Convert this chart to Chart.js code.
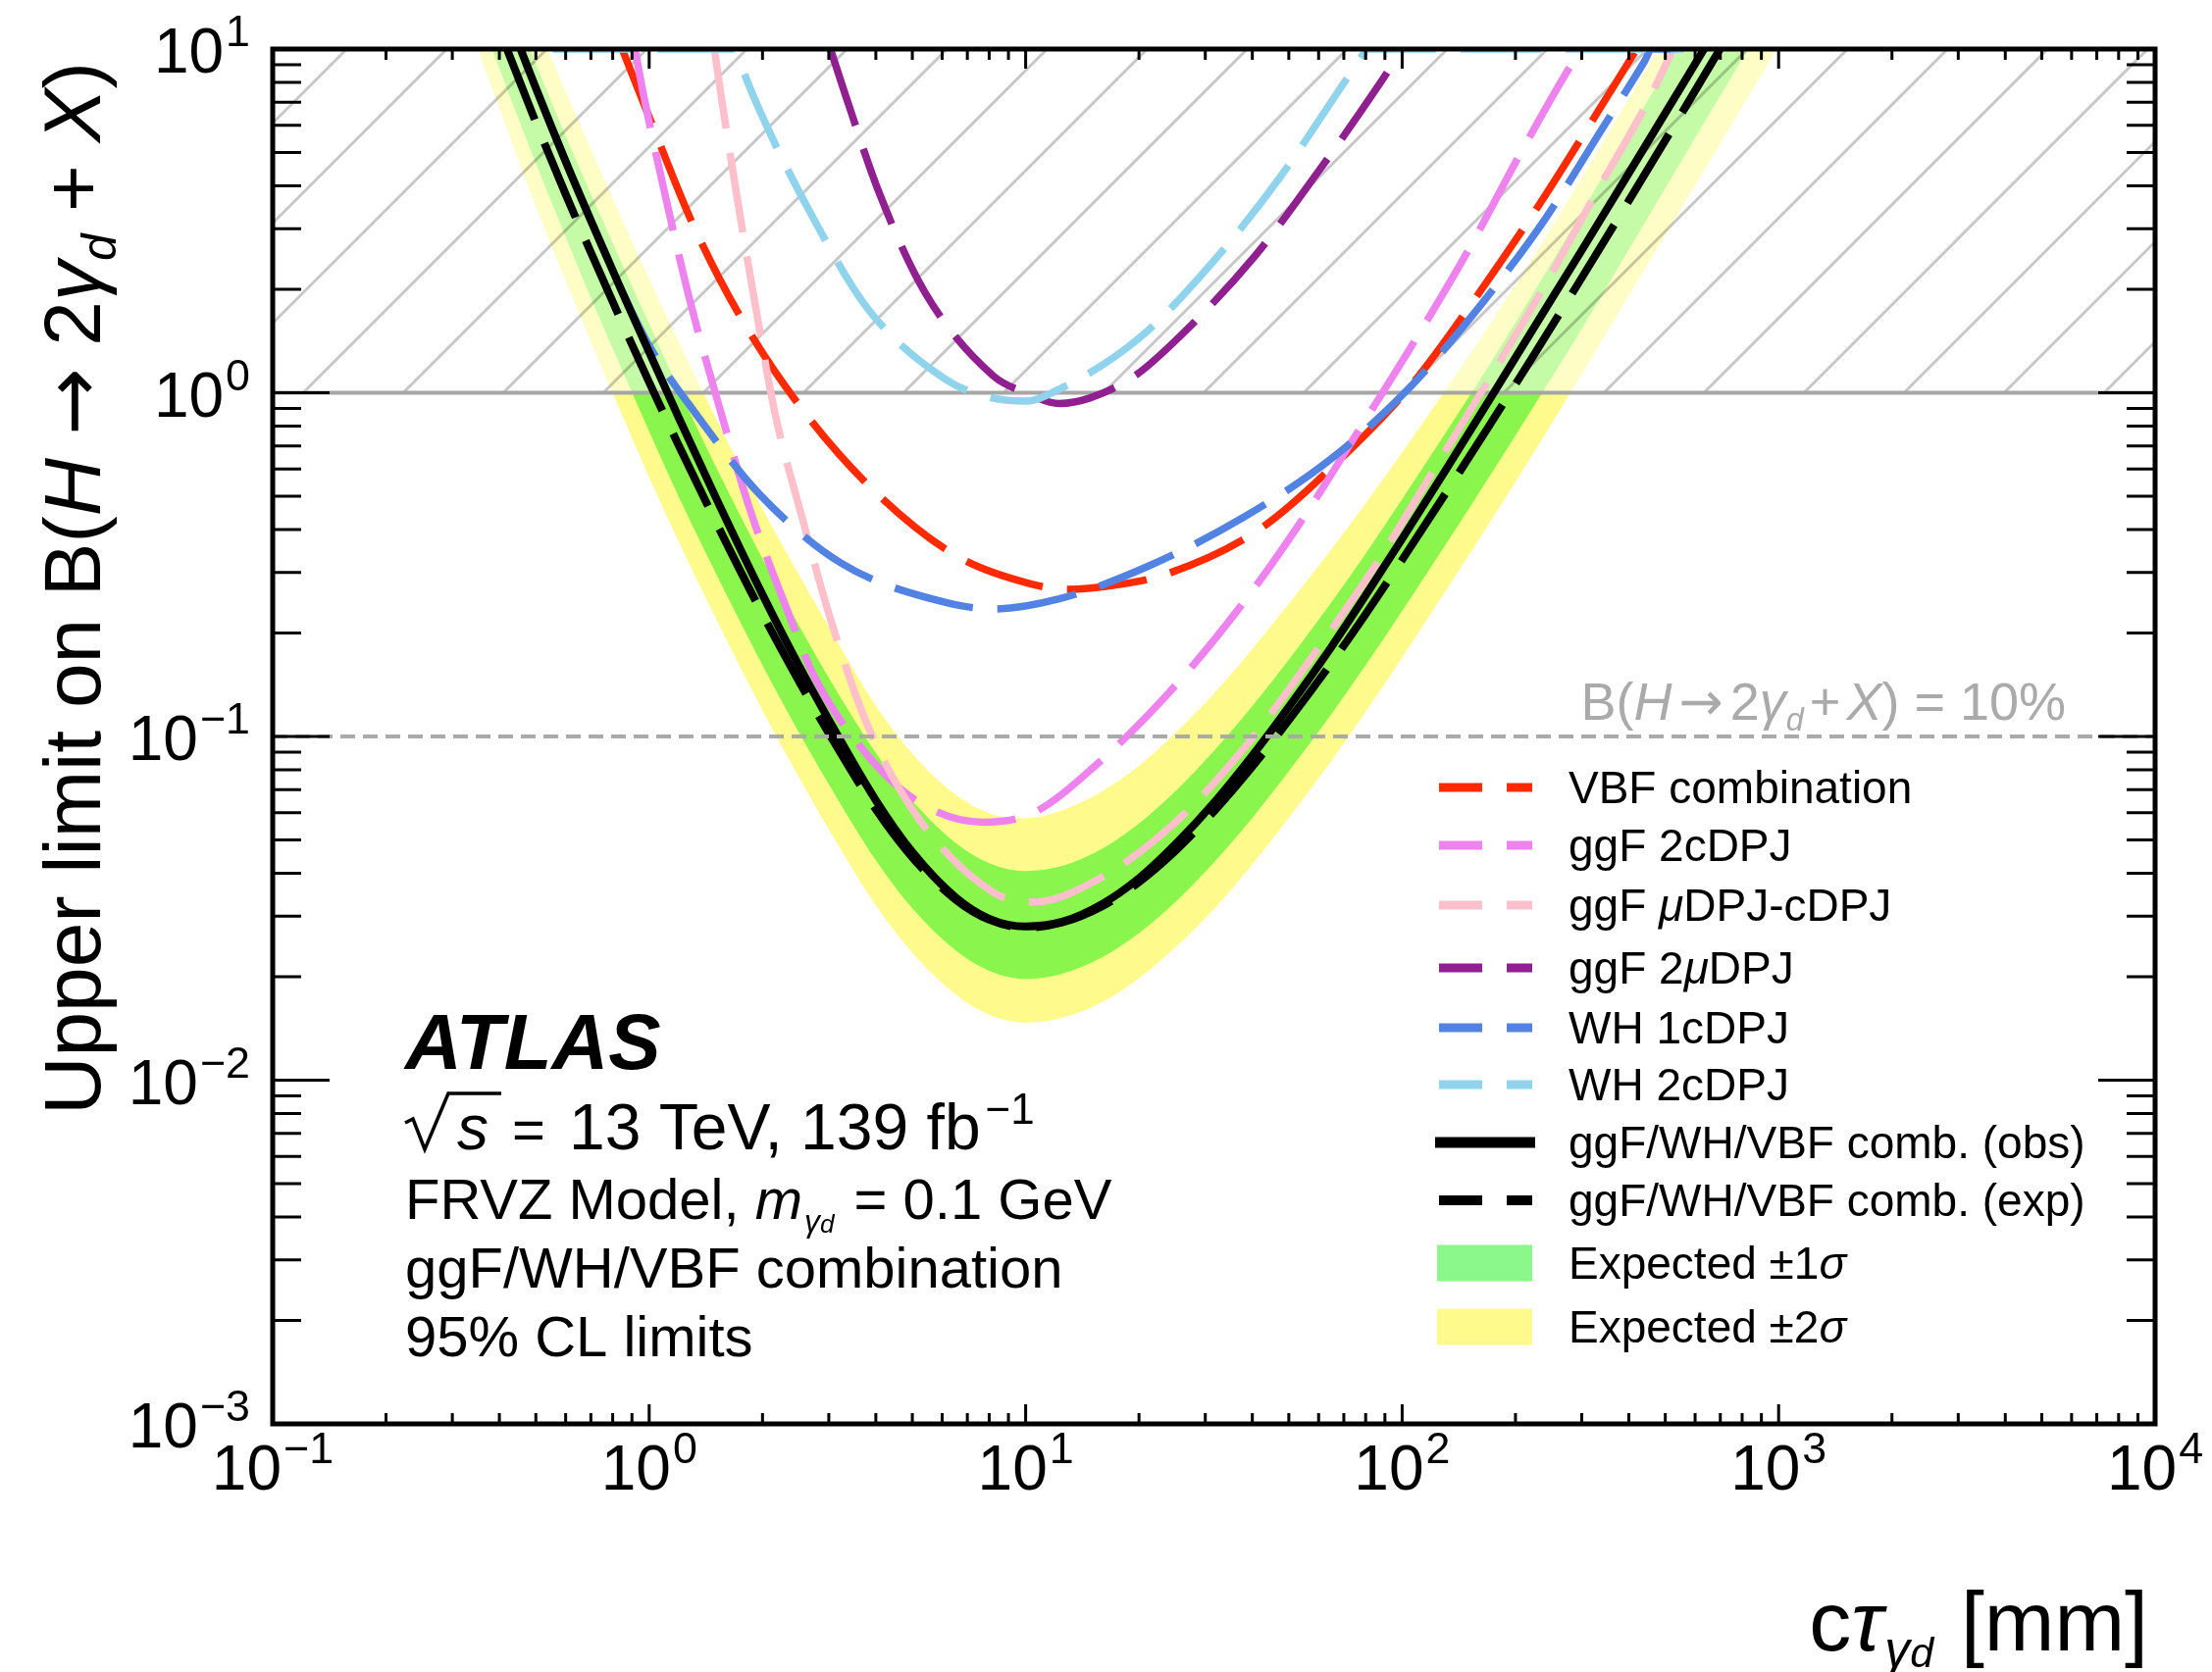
<!DOCTYPE html>
<html lang="en">
<head>
<meta charset="utf-8">
<title>Upper limit on B(H → 2γd + X) versus cτ</title>
<script src="https://cdn.jsdelivr.net/npm/chart.js@4.4.1/dist/chart.umd.min.js"></script>
<style>
html, body { margin: 0; padding: 0; background: #ffffff; }
#plot { display: block; }
</style>
</head>
<body>
<canvas id="plot" width="2255" height="1705"></canvas>
<script>
// ---------------------------------------------------------------
// 95% CL upper limits on B(H -> 2 gamma_d + X) versus c*tau [mm]
// ---------------------------------------------------------------

// combined expected / observed limits and the expected bands (common cτ grid, mm)
const ctauComb = [0.33, 0.4, 0.5, 0.6, 0.7, 0.85, 1.0, 1.2, 1.5, 2.0, 2.5, 3.0, 4.0, 5.0, 6.5, 8.0, 10, 12.5, 16, 20, 25, 32, 40, 50, 65, 80, 100, 130, 170, 220, 300, 400, 550, 700, 900, 1100];
const limitExp = [20.0, 11.4, 6.12, 3.78, 2.56, 1.585, 1.072, 0.70, 0.423, 0.227, 0.1447, 0.1022, 0.0614, 0.0445, 0.0336, 0.0293, 0.0278, 0.02875, 0.0321, 0.0377, 0.0465, 0.0614, 0.0817, 0.1115, 0.1641, 0.227, 0.3266, 0.5065, 0.7995, 1.25, 2.16, 3.62, 6.45, 10.03, 15.9, 23.1];
const limitObs = [25.8, 14.5, 7.7, 4.71, 3.17, 1.95, 1.312, 0.843, 0.498, 0.2586, 0.1605, 0.1118, 0.0652, 0.0461, 0.0341, 0.0295, 0.0280, 0.0289, 0.0326, 0.0387, 0.0486, 0.0651, 0.088, 0.1219, 0.1828, 0.2575, 0.3762, 0.592, 0.948, 1.499, 2.597, 4.35, 7.73, 11.98, 19.0, 27.6];
const bandUp2 = [39.0, 22.2, 12.06, 7.52, 5.12, 3.17, 2.14, 1.40, 0.846, 0.459, 0.295, 0.2085, 0.1228, 0.089, 0.0679, 0.0598, 0.0578, 0.061, 0.0693, 0.0822, 0.1023, 0.1351, 0.1797, 0.2431, 0.3512, 0.4767, 0.6695, 1.013, 1.567, 2.425, 4.21, 7.17, 12.9, 20.3, 32.4, 47.4];
const bandUp1 = [29.6, 16.9, 9.06, 5.59, 3.79, 2.35, 1.587, 1.022, 0.613, 0.329, 0.21, 0.148, 0.0896, 0.065, 0.0491, 0.0428, 0.0406, 0.042, 0.0472, 0.0558, 0.0693, 0.0921, 0.1226, 0.1673, 0.2462, 0.3405, 0.4899, 0.7598, 1.199, 1.90, 3.35, 5.72, 10.3, 16.0, 25.4, 37.0];
const bandDn1 = [15.6, 8.78, 4.65, 2.84, 1.89, 1.157, 0.772, 0.497, 0.300, 0.161, 0.1027, 0.0726, 0.0436, 0.0316, 0.0239, 0.0208, 0.0197, 0.0204, 0.0228, 0.0268, 0.033, 0.0436, 0.058, 0.0792, 0.1165, 0.1612, 0.2319, 0.3596, 0.5676, 0.8875, 1.534, 2.61, 4.70, 7.32, 11.6, 16.9];
const bandDn2 = [12.0, 6.73, 3.49, 2.12, 1.41, 0.856, 0.568, 0.367, 0.222, 0.119, 0.076, 0.0537, 0.0323, 0.0235, 0.0178, 0.0155, 0.0147, 0.0152, 0.0169, 0.0198, 0.0244, 0.0319, 0.0425, 0.058, 0.0853, 0.118, 0.1698, 0.2634, 0.4157, 0.65, 1.134, 1.92, 3.42, 5.32, 8.43, 12.2];

// individual channels
const ctauVBF = [0.848, 1.017, 1.31, 1.76, 2.55, 3.94, 6.53, 10.3, 12.9, 17, 23.5, 41.7, 69, 107, 160, 233, 329, 420];
const limitVBF = [10, 6.05, 3.07, 1.64, 0.895, 0.521, 0.336, 0.278, 0.268, 0.275, 0.296, 0.40, 0.646, 1.07, 1.95, 3.57, 6.5, 10];

const ctauGgf2c = [0.917, 0.965, 1.11, 1.29, 1.54, 1.87, 2.32, 2.74, 3.61, 5.09, 7.7, 10.5, 15.3, 24, 37, 53.7, 78, 109, 152, 207, 286, 300];
const limitGgf2c = [10, 7.4, 3.64, 1.81, 0.9, 0.443, 0.235, 0.15, 0.0944, 0.0654, 0.0563, 0.06, 0.0822, 0.134, 0.237, 0.42, 0.8, 1.44, 2.67, 5.01, 9.27, 10];

const ctauGgfMuC = [1.49, 1.55, 1.72, 1.92, 2.16, 2.55, 3.0, 3.76, 5.09, 8.24, 10.5, 15.1, 25, 39.2, 58, 85.5, 120, 169, 238, 326, 449, 525];
const limitGgfMuC = [10, 7.4, 3.59, 1.76, 0.868, 0.432, 0.228, 0.111, 0.0596, 0.0351, 0.033, 0.0377, 0.0563, 0.0964, 0.172, 0.318, 0.584, 1.08, 2.03, 3.78, 7.03, 10];

const ctauGgf2mu = [3.03, 3.31, 4.1, 5.4, 8.2, 10, 12.3, 14.8, 19.5, 25.7, 40.4, 59.5, 86.8, 100];
const limitGgf2mu = [10, 7.43, 3.77, 1.96, 1.12, 1.0, 0.93, 0.965, 1.12, 1.46, 2.48, 4.36, 7.87, 10];

const ctauWH1 = [0.4, 0.5, 0.6, 0.7, 0.85, 1.0, 1.315, 1.96, 3.24, 5.89, 8.2, 12.2, 20.9, 37.6, 65.2, 106, 163, 241, 336, 440, 460, 600];
const limitWH1 = [14.5, 7.7, 4.71, 3.17, 1.96, 1.37, 0.884, 0.508, 0.319, 0.248, 0.235, 0.251, 0.311, 0.432, 0.646, 1.05, 1.82, 3.23, 5.75, 9.2, 10, 10];

const ctauWH2 = [0.554, 1.70, 1.76, 2.02, 2.72, 3.8, 6.16, 8.0, 10.0, 12.2, 20, 31.6, 47.5, 69, 78.5, 80.5, 560];
const limitWH2 = [10, 10, 8.9, 6.2, 3.24, 1.76, 1.09, 0.97, 0.945, 1.02, 1.44, 2.42, 4.25, 7.78, 9.6, 10, 10];

// axis decades
const xTickExponents = [-1, 0, 1, 2, 3, 4];
const yTickExponents = [-3, -2, -1, 0, 1];

// text
const ARROW_FONT = "'DejaVu Sans', sans-serif";
const legendLabels = [
  [{t: 'VBF combination'}],
  [{t: 'ggF 2cDPJ'}],
  [{t: 'ggF '}, {t: 'μ', it: true}, {t: 'DPJ-cDPJ'}],
  [{t: 'ggF 2'}, {t: 'μ', it: true}, {t: 'DPJ'}],
  [{t: 'WH 1cDPJ'}],
  [{t: 'WH 2cDPJ'}],
  [{t: 'ggF/WH/VBF comb. (obs)'}],
  [{t: 'ggF/WH/VBF comb. (exp)'}],
  [{t: 'Expected ±1'}, {t: 'σ', it: true}],
  [{t: 'Expected ±2'}, {t: 'σ', it: true}]
];
const yTitle = [{t: 'Upper limit on B('}, {t: 'H', it: true}, {t: ' '}, {t: '→', f: ARROW_FONT}, {t: ' 2'},
  {t: 'γ', it: true}, {t: 'd', it: true, sc: 0.6, dy: 0.2}, {t: ' + '}, {t: 'X', it: true}, {t: ')'}];
const xTitle = [{t: 'c'}, {t: 'τ', it: true}, {t: 'γ', it: true, sc: 0.6, dy: 0.2, gap: 2},
  {t: 'd', it: true, sc: 0.5, dy: 0.2}, {t: ' [mm]', gap: 4}];
const refLineLabel = [{t: 'B('}, {t: 'H', it: true}, {t: '→', f: ARROW_FONT, gap: 7}, {t: '2', gap: 7},
  {t: 'γ', it: true}, {t: 'd', it: true, sc: 0.6, dy: 0.2}, {t: '+', gap: 6}, {t: 'X', it: true, gap: 6},
  {t: ') = 10%'}];

// ---------------------------------------------------------------
const FONT = "'Liberation Sans', Arial, Helvetica, sans-serif";
const COLORS = {
  vbf: '#ff2a00', ggf2c: '#ee82ee', ggfMuC: '#ffc0cb', ggf2mu: '#901f8f',
  wh1: '#5283e3', wh2: '#8fd3ec', yellow: '#fffa8c', green: 'rgba(0,240,0,0.46)'
};
const DASH = [82, 25];

const pts = (xs, ys) => xs.map((x, i) => ({x, y: ys[i]}));

function bandSet(key, ys, color, fill, order) {
  return {key, data: pts(ctauComb, ys), borderWidth: 0, borderColor: 'rgba(0,0,0,0)',
    backgroundColor: color, fill, pointRadius: 0, order, clip: 0};
}
function curveSet(key, label, xs, ys, color, width, dash, order) {
  return {key, label, data: pts(xs, ys), borderColor: color, borderWidth: width, borderDash: dash,
    backgroundColor: color, fill: false, pointRadius: 0, order, clip: 0};
}

const datasets = [
  bandSet('up2', bandUp2, COLORS.yellow, '+1', 104),
  bandSet('dn2', bandDn2, COLORS.yellow, false, 103),
  bandSet('up1', bandUp1, COLORS.green, '+1', 102),
  bandSet('dn1', bandDn1, COLORS.green, false, 101),
  curveSet('vbf', 'VBF combination', ctauVBF, limitVBF, COLORS.vbf, 7.5, DASH, 9),
  curveSet('ggf2c', 'ggF 2cDPJ', ctauGgf2c, limitGgf2c, COLORS.ggf2c, 7.5, DASH, 8),
  curveSet('ggfMuC', 'ggF μDPJ-cDPJ', ctauGgfMuC, limitGgfMuC, COLORS.ggfMuC, 7.5, DASH, 7),
  curveSet('ggf2mu', 'ggF 2μDPJ', ctauGgf2mu, limitGgf2mu, COLORS.ggf2mu, 7.5, DASH, 6),
  curveSet('wh1', 'WH 1cDPJ', ctauWH1, limitWH1, COLORS.wh1, 7.5, DASH, 5),
  curveSet('wh2', 'WH 2cDPJ', ctauWH2, limitWH2, COLORS.wh2, 7.5, DASH, 4),
  curveSet('exp', 'ggF/WH/VBF comb. (exp)', ctauComb, limitExp, '#000000', 8, [82, 26], 1),
  curveSet('obs', 'ggF/WH/VBF comb. (obs)', ctauComb, limitObs, '#000000', 8, [], 0)
];

// ---------------- text helpers ----------------
function setFont(ctx, size, r) {
  ctx.font = (r.it ? 'italic ' : '') + (r.b ? 'bold ' : '') + size.toFixed(1) + 'px ' + (r.f || FONT);
}
function runsWidth(ctx, runs, size) {
  let w = 0;
  for (const r of runs) {
    setFont(ctx, size * (r.sc || 1), r);
    w += (r.gap || 0) + ctx.measureText(r.t).width;
  }
  return w;
}
function drawRuns(ctx, runs, x, y, size, align, color) {
  const w = runsWidth(ctx, runs, size);
  let cx = align === 'right' ? x - w : align === 'center' ? x - w / 2 : x;
  ctx.save();
  ctx.fillStyle = color || '#000';
  ctx.textAlign = 'left';
  ctx.textBaseline = 'alphabetic';
  for (const r of runs) {
    setFont(ctx, size * (r.sc || 1), r);
    cx += r.gap || 0;
    ctx.fillText(r.t, cx, y + (r.dy || 0) * size);
    cx += ctx.measureText(r.t).width;
  }
  ctx.restore();
  return cx;
}

// ---------------- decorations ----------------
function drawExcludedRegion(chart) {
  const {ctx, chartArea: a, scales: {y}} = chart;
  const y1 = y.getPixelForValue(1);
  const h = y1 - a.top;
  ctx.save();
  ctx.beginPath();
  ctx.rect(a.left, a.top, a.right - a.left, h);
  ctx.clip();
  ctx.fillStyle = 'rgba(255,255,255,0.5)';
  ctx.fillRect(a.left, a.top, a.right - a.left, h);
  ctx.strokeStyle = 'rgba(0,0,0,0.22)';
  ctx.lineWidth = 3;
  const step = 102, phase = 31;
  for (let x0 = a.left + phase - Math.ceil(h / step) * step; x0 < a.right; x0 += step) {
    ctx.beginPath();
    ctx.moveTo(x0, y1);
    ctx.lineTo(x0 + h, a.top);
    ctx.stroke();
  }
  ctx.restore();
  ctx.save();
  ctx.strokeStyle = '#a6a6a6';
  ctx.lineWidth = 4;
  ctx.beginPath();
  ctx.moveTo(a.left, y1);
  ctx.lineTo(a.right, y1);
  ctx.stroke();
  ctx.restore();
}

function drawTenPercent(chart) {
  const {ctx, chartArea: a, scales: {y}} = chart;
  const yp = y.getPixelForValue(0.1);
  ctx.save();
  ctx.strokeStyle = '#aaaaaa';
  ctx.lineWidth = 4;
  ctx.setLineDash([15, 8]);
  ctx.beginPath();
  ctx.moveTo(a.left, yp);
  ctx.lineTo(a.right, yp);
  ctx.stroke();
  ctx.restore();
  drawRuns(ctx, refLineLabel, a.right - 91, yp - 17, 54, 'right', '#aaaaaa');
}

function drawFrame(chart) {
  const {ctx, chartArea: a, scales: {x, y}} = chart;
  ctx.save();
  ctx.strokeStyle = '#000';
  ctx.lineCap = 'butt';
  ctx.lineWidth = 3;
  ctx.beginPath();
  for (let e = -1; e <= 4; e++) {
    for (let m = 1; m <= 9; m++) {
      const v = m * Math.pow(10, e);
      if (v > 1e4 * 1.0001) break;
      const px = x.getPixelForValue(v);
      const len = m === 1 ? 20 : 11;
      ctx.moveTo(px, a.bottom); ctx.lineTo(px, a.bottom - len);
      ctx.moveTo(px, a.top); ctx.lineTo(px, a.top + len);
    }
  }
  for (let e = -3; e <= 1; e++) {
    for (let m = 1; m <= 9; m++) {
      const v = m * Math.pow(10, e);
      if (v > 10 * 1.0001) break;
      const py = y.getPixelForValue(v);
      const len = m === 1 ? 58 : 29;
      ctx.moveTo(a.left, py); ctx.lineTo(a.left + len, py);
      ctx.moveTo(a.right, py); ctx.lineTo(a.right - len, py);
    }
  }
  ctx.stroke();
  ctx.lineWidth = 5;
  ctx.strokeRect(a.left, a.top, a.right - a.left, a.bottom - a.top);
  ctx.restore();
}

function powerRuns(e) {
  return [{t: '10'}, {t: e < 0 ? '\u2212' + (-e) : String(e), sc: 0.7, dy: -0.42, gap: 2}];
}
function drawTickLabels(chart) {
  const {ctx, chartArea: a, scales: {x, y}} = chart;
  for (const e of xTickExponents) {
    drawRuns(ctx, powerRuns(e), x.getPixelForValue(Math.pow(10, e)), a.bottom + 67, 64, 'center');
  }
  for (const e of yTickExponents) {
    drawRuns(ctx, powerRuns(e), a.left - 23, y.getPixelForValue(Math.pow(10, e)) + 24, 64, 'right');
  }
}

function drawLegend(chart) {
  const ctx = chart.ctx;
  const byKey = {};
  chart.data.datasets.forEach(d => { byKey[d.key] = d; });
  const entries = [
    {kind: 'dash', ds: 'vbf'}, {kind: 'dash', ds: 'ggf2c'}, {kind: 'dash', ds: 'ggfMuC'},
    {kind: 'dash', ds: 'ggf2mu'}, {kind: 'dash', ds: 'wh1'}, {kind: 'dash', ds: 'wh2'},
    {kind: 'solid', ds: 'obs'}, {kind: 'dash', ds: 'exp'},
    {kind: 'box', ds: 'up1'}, {kind: 'box', ds: 'up2'}
  ];
  const rows = [803, 862, 923, 987, 1048, 1106, 1165, 1224, 1288, 1353];
  entries.forEach((en, i) => {
    const yc = rows[i];
    const d = byKey[en.ds];
    ctx.save();
    if (en.kind === 'box') {
      ctx.fillStyle = d.backgroundColor;
      ctx.fillRect(1465, yc - 18.5, 97, 37);
    } else {
      ctx.strokeStyle = d.borderColor;
      ctx.lineCap = 'butt';
      ctx.beginPath();
      if (en.kind === 'solid') {
        ctx.lineWidth = 11;
        ctx.moveTo(1463, yc); ctx.lineTo(1565, yc);
      } else {
        ctx.lineWidth = en.ds === 'exp' ? 10 : 9;
        ctx.moveTo(1467, yc); ctx.lineTo(1511, yc);
        ctx.moveTo(1536, yc); ctx.lineTo(1562, yc);
      }
      ctx.stroke();
    }
    ctx.restore();
    drawRuns(ctx, legendLabels[i], 1599, yc + 16, 46, 'left');
  });
}

function drawAnnotations(chart) {
  const ctx = chart.ctx;
  // axis titles
  ctx.save();
  ctx.translate(102, 600);
  ctx.rotate(-Math.PI / 2);
  drawRuns(ctx, yTitle, 0, 0, 82, 'center');
  ctx.restore();
  drawRuns(ctx, xTitle, 2190, 1683, 86, 'right');

  // experiment label block
  drawRuns(ctx, [{t: 'ATLAS', it: true, b: true}], 413, 1090, 80, 'left');

  const yb = 1172;
  ctx.save();
  ctx.strokeStyle = '#000';
  ctx.lineWidth = 3.5;
  ctx.lineJoin = 'miter';
  ctx.beginPath();
  ctx.moveTo(413, yb - 27);
  ctx.lineTo(421, yb - 31);
  ctx.lineTo(433, yb);
  ctx.lineTo(457, yb - 57);
  ctx.lineTo(511, yb - 57);
  ctx.stroke();
  ctx.restore();
  drawRuns(ctx, [{t: 's', it: true}], 466, yb, 64, 'left');
  drawRuns(ctx, [{t: '='}], 522, yb, 58, 'left');
  const end = drawRuns(ctx, [{t: '13 TeV, 139 fb'}], 580, yb, 66, 'left');
  drawRuns(ctx, [{t: '\u22121'}], end + 5, yb - 26, 44, 'left');

  drawRuns(ctx, [{t: 'FRVZ Model, '}, {t: 'm', it: true}, {t: 'γ', it: true, sc: 0.55, dy: 0.22, gap: 2},
    {t: 'd', it: true, sc: 0.45, dy: 0.24}, {t: ' = 0.1 GeV', gap: 4}], 413, 1243, 58, 'left');
  drawRuns(ctx, [{t: 'ggF/WH/VBF combination'}], 413, 1313, 58, 'left');
  drawRuns(ctx, [{t: '95% CL limits'}], 413, 1383, 58, 'left');
}

const decorations = {
  id: 'decorations',
  afterDatasetDraw(chart, args) {
    if (chart.data.datasets[args.index].key === 'dn1') drawExcludedRegion(chart);
  },
  afterDatasetsDraw(chart) { drawTenPercent(chart); },
  afterDraw(chart) {
    drawFrame(chart);
    drawTickLabels(chart);
    drawLegend(chart);
    drawAnnotations(chart);
  }
};

Chart.defaults.font.family = FONT;

new Chart(document.getElementById('plot'), {
  type: 'line',
  data: {datasets},
  options: {
    responsive: false,
    animation: false,
    devicePixelRatio: 1,
    layout: {padding: {left: 278, right: 58, top: 50, bottom: 253}},
    scales: {
      x: {type: 'logarithmic', min: 0.1, max: 1e4, display: false},
      y: {type: 'logarithmic', min: 1e-3, max: 10, display: false}
    },
    elements: {
      point: {radius: 0},
      line: {cubicInterpolationMode: 'monotone', capBezierPoints: false, borderCapStyle: 'butt', borderJoinStyle: 'round'}
    },
    plugins: {legend: {display: false}, tooltip: {enabled: false}, title: {display: false}}
  },
  plugins: [decorations]
});
</script>
</body>
</html>
